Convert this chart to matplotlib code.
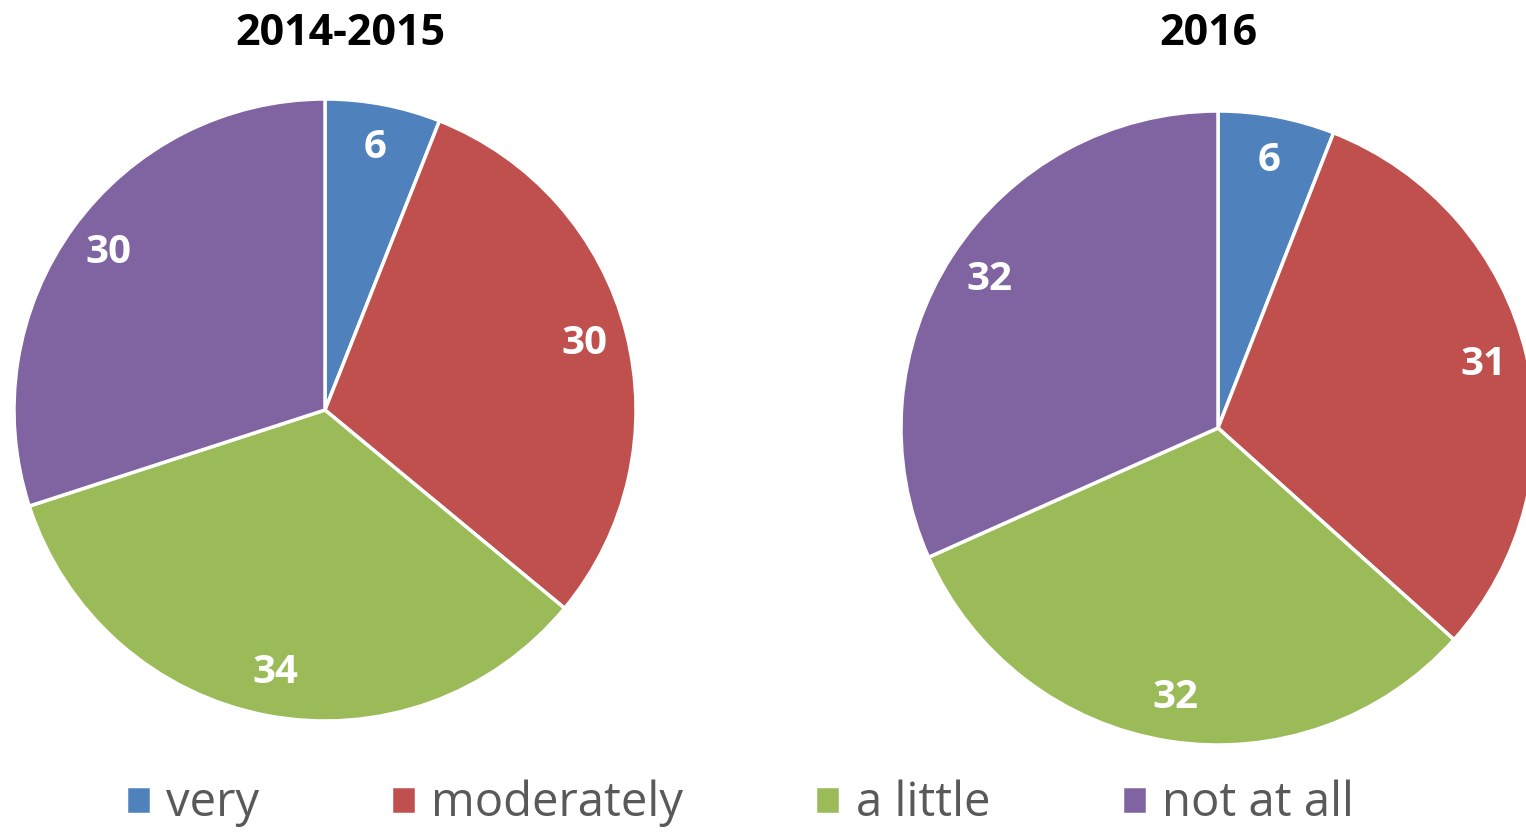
import matplotlib.pyplot as plt

categories = ["very", "moderately", "a little", "not at all"]
titles = ["2014-2015", "2016"]
values_2014 = [6, 30, 34, 30]
values_2016 = [6, 31, 32, 32]
colors = ["#4F81BD", "#C0504D", "#9BBB59", "#8064A2"]

plt.rcParams['font.family'] = ['Open Sans', 'DejaVu Sans']

W, H = 1526, 834
fig = plt.figure(figsize=(W / 100, H / 100), dpi=100)
ax = fig.add_axes([0, 0, 1, 1])

def drawPie(vals, cx, cy, r, title, tx):
    wedges, texts = ax.pie(vals, colors=colors, startangle=90, counterclock=False,
                           center=(cx, H - cy), radius=r,
                           labels=[str(v) for v in vals], labeldistance=0.86,
                           wedgeprops=dict(edgecolor="white", linewidth=2.5),
                           textprops=dict(color="white", fontsize=29, fontweight="bold",
                                          ha="center", va="center"))
    for t in texts:
        t.set_ha("center")
    ax.text(tx, H - 33, title, ha="center", va="center", fontsize=31, fontweight="bold")
    return wedges

wedges = drawPie(values_2014, 325, 410, 311, titles[0], 340)
drawPie(values_2016, 1218, 428, 317, titles[1], 1208)

ax.set_xlim(0, W)
ax.set_ylim(0, H)
ax.set_aspect("equal")
ax.axis("off")

fig.legend(wedges, categories, loc="lower center", bbox_to_anchor=(0.485, -0.043), ncol=4,
           frameon=False, fontsize=34, labelcolor="#595959",
           handlelength=0.53, handleheight=0.53, handletextpad=0.32, columnspacing=2.8)

fig.savefig("out.png", dpi=100)
